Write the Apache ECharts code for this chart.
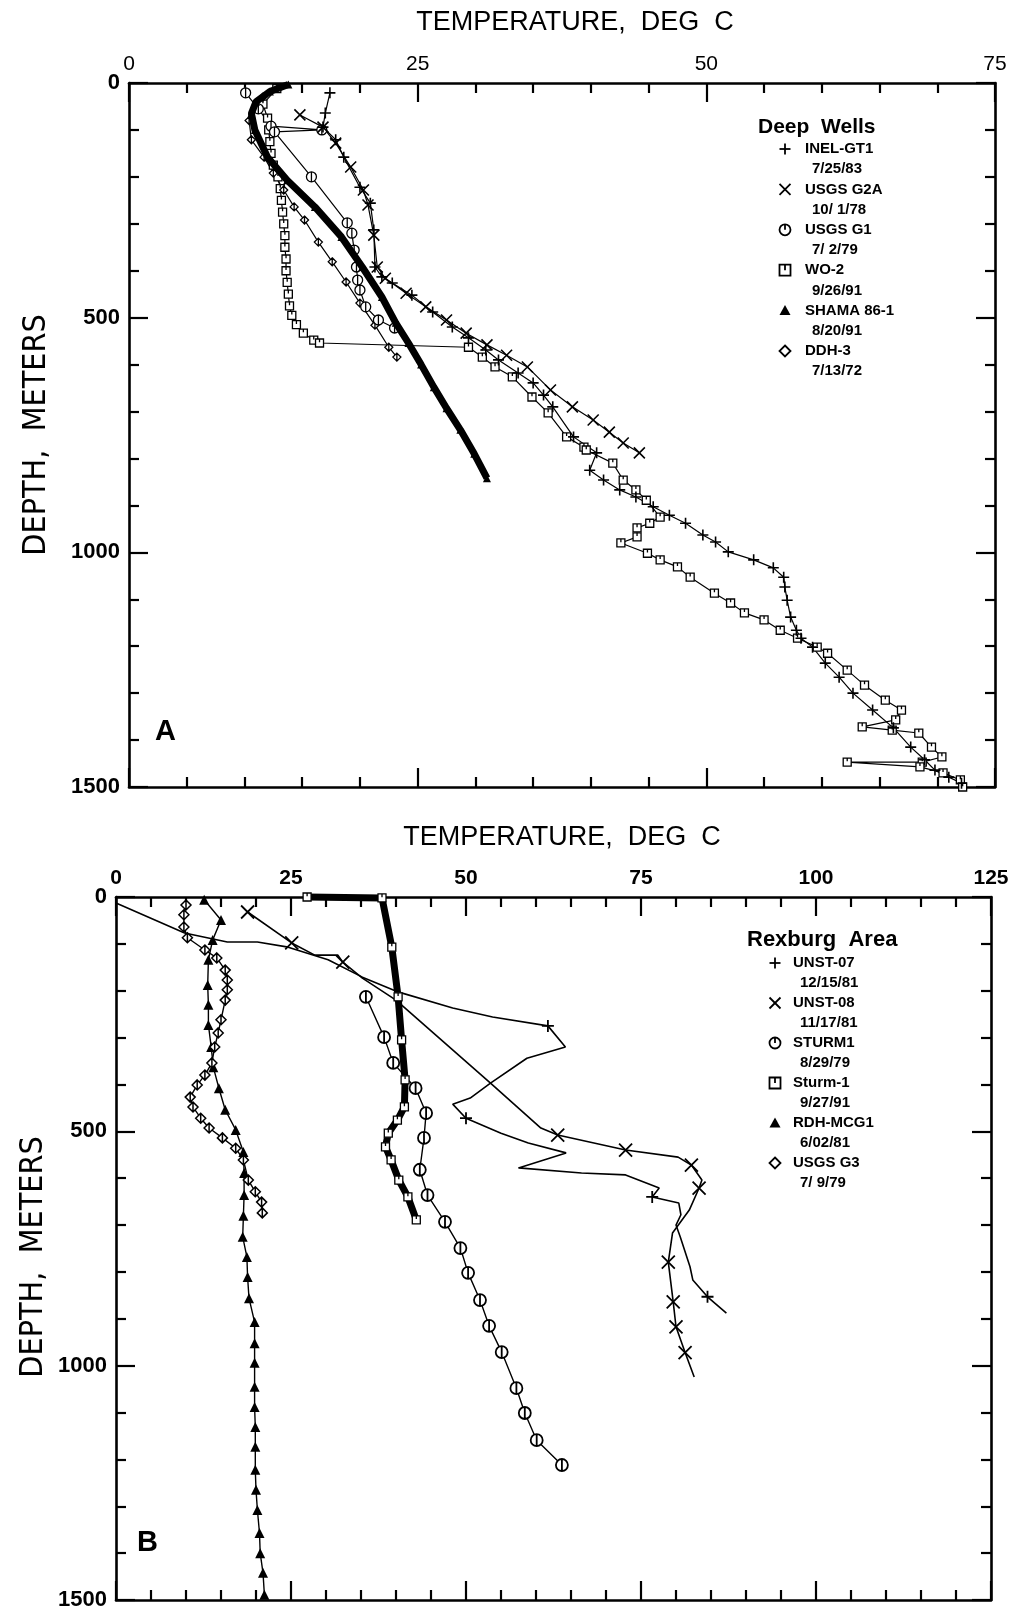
<!DOCTYPE html>
<html>
<head>
<meta charset="utf-8">
<script src="https://cdn.jsdelivr.net/npm/echarts@6/dist/echarts.min.js"></script>
<style>
  html, body { margin: 0; padding: 0; background: #fff; }
  #chart { width: 1033px; height: 1612px; }
</style>
</head>
<body>
<div id="chart"></div>
<script>
// Axis tick values
const tempTicksA = [0, 25, 50, 75];
const tempTicksB = [0, 25, 50, 75, 100, 125];
const depthTicks = [0, 500, 1000, 1500];

// ---- Panel A: Deep Wells  [temperature degC, depth m] ----
const inelGT1 = [
  [17.4,21],[17.0,64],[16.8,94],[17.9,121],[18.6,158],[20.0,222],[20.9,256],[21.2,313],
  [21.3,392],[21.9,413],[22.8,426],[24.5,452],[26.3,488],[28.0,520],[29.4,543],[30.9,569],
  [32.0,590],[33.7,618],[35.0,639],[35.9,665],[36.7,690],[38.5,754],[40.5,788],[39.9,825],
  [41.1,846],[42.5,867],[43.9,882],[45.4,903],[46.8,921],[48.2,938],[49.7,963],[50.8,978],
  [51.9,999],[54.1,1016],[55.8,1033],[56.7,1053],[56.8,1074],[57.0,1102],[57.3,1138],
  [57.8,1166],[58.2,1183],[59.2,1202],[60.3,1236],[61.5,1266],[62.7,1300],[64.4,1336],
  [66.2,1374],[67.7,1415],[68.9,1442],[69.8,1464],[71.0,1479],[72.1,1492]
];
const usgsG2A = [
  [14.8,68],[16.8,94],[17.9,128],[19.2,179],[20.3,228],[20.7,260],[21.2,324],[21.5,392],
  [22.2,416],[24.0,448],[25.7,477],[27.5,505],[29.2,533],[31.0,558],[32.7,580],[34.5,605],
  [36.5,654],[38.4,690],[40.2,718],[41.6,744],[42.8,767],[44.2,788]
];
const usgsG1 = [
  [10.1,21],[11.2,55],[12.3,92],[16.7,100],[12.6,104],[15.8,200],[18.9,298],[19.3,320],
  [19.5,356],[19.7,392],[19.8,420],[20.0,441],[20.5,477],[21.6,505],[23.0,522]
];
const wo2 = [
  [12.8,12],[11.6,45],[12.0,75],[12.1,100],[12.2,125],[12.3,150],[12.5,175],[12.9,200],
  [13.1,225],[13.2,250],[13.3,275],[13.4,300],[13.5,325],[13.5,350],[13.6,375],[13.6,400],
  [13.7,425],[13.8,450],[13.9,475],[14.1,495],[14.5,515],[15.1,533],[16.0,548],[16.5,554],
  [29.4,563],[30.6,584],[31.7,605],[33.2,626],[34.9,669],[36.3,703],[37.9,754],[39.4,776],
  [39.6,782],[41.9,810],[42.8,846],[43.9,867],[44.8,889],[46.0,925],[45.1,938],[44.0,948],
  [44.0,967],[42.6,980],[44.9,1002],[46.0,1016],[47.5,1031],[48.6,1053],[50.7,1087],
  [52.1,1108],[53.3,1129],[55.0,1144],[56.4,1166],[57.9,1183],[59.6,1202],[60.5,1215],
  [62.2,1251],[63.7,1283],[65.5,1315],[66.9,1336],[66.4,1357],[63.5,1372],[66.1,1379],
  [68.4,1385],[69.5,1415],[70.4,1436],[68.7,1447],[62.2,1447],[68.5,1457],[70.5,1470],
  [72.0,1485],[72.2,1500]
];
const shama861 = [
  [13.8,3],[12.2,18],[11.0,40],[10.6,65],[10.9,100],[12.0,158],[13.7,207],[16.1,264],
  [18.4,328],[20.2,392],[21.9,456],[23.1,511],[24.2,554],[25.3,600],[26.4,648],[27.5,693],
  [28.7,739],[29.9,790],[31.0,842]
];
const ddh3 = [
  [11.6,30],[10.4,80],[10.6,121],[11.7,158],[12.5,192],[13.4,228],[14.3,264],[15.2,292],
  [16.4,339],[17.6,381],[18.8,424],[20.0,469],[21.3,516],[22.5,563],[23.2,584]
];

// ---- Panel B: Rexburg Area  [temperature degC, depth m, marked 1/0] ----
const unst07 = [
  [0.0,13,0],[9.8,77,0],[15.9,96,0],[20.2,96,0],[24.6,107,0],[30.3,134,0],[35.2,171,0],
  [40.4,203,0],[48.1,237,0],[53.8,256,0],[61.7,275,1],[64.2,320,0],[58.7,344,0],[53.5,397,0],
  [50.6,429,0],[48.1,442,0],[50.0,472,1],[55.0,504,0],[58.9,525,0],[64.3,546,0],[57.5,578,0],
  [66.5,589,0],[72.8,593,0],[77.6,621,0],[76.6,640,1],[80.4,653,0],[80.7,678,0],[80.0,700,0],
  [80.6,725,0],[82.0,789,0],[82.4,817,0],[84.5,853,1],[87.2,888,0]
];
const unst08 = [
  [18.8,32,1],[25.1,98,1],[28.4,124,0],[31.7,124,0],[32.4,139,1],[35.2,173,0],[40.0,220,0],
  [53.5,397,0],[60.7,493,0],[63.1,508,1],[72.8,540,1],[80.3,555,0],[82.2,572,1],[83.7,604,0],
  [83.3,621,1],[81.9,668,0],[79.5,717,0],[78.9,779,1],[79.6,864,1],[80.0,917,1],[81.3,972,1],
  [82.6,1024,0]
];
const sturm1Old = [
  [35.7,213],[38.3,299],[39.6,354],[42.8,408],[44.3,461],[44.0,514],[43.4,582],[44.5,636],
  [47.0,693],[49.2,749],[50.3,802],[52.0,860],[53.3,915],[55.1,971],[57.2,1048],[58.4,1101],
  [60.1,1159],[63.7,1212]
];
const sturm1New = [
  [27.3,0],[38.0,2],[39.4,107],[40.3,213],[40.8,305],[41.3,390],[41.2,448],[40.2,476],
  [38.9,504],[38.5,533],[39.3,561],[40.4,604],[41.7,640],[42.9,689]
];
const rdhMcg1 = [
  [12.6,6],[15.0,49],[13.8,92],[13.2,134],[13.1,188],[13.2,230],[13.2,273],[13.6,320],
  [13.9,363],[14.7,408],[15.6,454],[17.1,497],[18.2,544],[18.3,589],[18.3,636],[18.2,680],
  [18.1,725],[18.7,768],[18.8,811],[19.0,856],[19.8,907],[19.8,952],[19.8,994],[19.8,1045],
  [19.8,1088],[19.9,1131],[19.9,1173],[19.9,1222],[20.0,1265],[20.2,1308],[20.5,1357],
  [20.6,1400],[21.0,1442],[21.2,1489]
];
const usgsG3 = [
  [10.0,17],[9.7,38],[9.7,64],[10.2,87],[12.7,113],[14.4,130],[15.6,156],[15.9,177],
  [15.9,198],[15.6,220],[15.0,262],[14.6,290],[14.1,320],[13.7,354],[12.7,380],[11.6,401],
  [10.6,427],[11.0,448],[12.1,472],[13.3,493],[15.2,514],[17.1,536],[18.2,561],[18.9,604],
  [19.9,629],[20.8,651],[20.9,674]
];

// Legend entries: [name, date, symbol kind]
const legendA = [
  ['INEL-GT1', '7/25/83', 'plus'],
  ['USGS G2A', '10/ 1/78', 'cross'],
  ['USGS G1', '7/ 2/79', 'circle'],
  ['WO-2', '9/26/91', 'square'],
  ['SHAMA 86-1', '8/20/91', 'triangle'],
  ['DDH-3', '7/13/72', 'diamond']
];
const legendB = [
  ['UNST-07', '12/15/81', 'plus'],
  ['UNST-08', '11/17/81', 'cross'],
  ['STURM1', '8/29/79', 'circle'],
  ['Sturm-1', '9/27/91', 'square'],
  ['RDH-MCG1', '6/02/81', 'triangle'],
  ['USGS G3', '7/ 9/79', 'diamond']
];

// ---- Symbol shapes ----
const SYM = {
  plus: 'path://M5,0L5,10M0,5L10,5',
  cross: 'path://M0,0L10,10M10,0L0,10',
  circle: 'path://M5,0A5,5,0,1,1,5,10A5,5,0,1,1,5,0ZM5,0L5,10',
  square: 'path://M0,0L10,0L10,10L0,10ZM5,0L5,4',
  triangle: 'triangle',
  diamond: 'path://M5,0L10,5L5,10L0,5ZM5,0L5,10'
};

function series(panel, name, pts, kind, size, opts) {
  opts = opts || {};
  const filled = kind === 'triangle';
  return {
    type: 'line',
    name: name,
    xAxisIndex: panel * 2,
    yAxisIndex: panel * 2,
    data: pts.map(p => (p.length > 2 && p[2] === 0)
      ? { value: [p[0], p[1]], symbol: 'none' }
      : [p[0], p[1]]),
    symbol: SYM[kind],
    symbolSize: size,
    symbolKeepAspect: true,
    itemStyle: filled
      ? { color: '#000' }
      : { color: '#fff', borderColor: '#000', borderWidth: opts.bw || 1.3 },
    lineStyle: { color: '#000', width: opts.lw || 1.2 },
    clip: false,
    silent: true,
    animation: false,
    z: opts.z || 2
  };
}

const plainNumber = v => String(v);

function xAxis(grid, pos, ticks, showLabels, bold) {
  return {
    type: 'value', gridIndex: grid, position: pos,
    min: ticks[0], max: ticks[ticks.length - 1], interval: ticks[1] - ticks[0],
    axisLine: { show: true, onZero: false, lineStyle: { color: '#000', width: 2.6 } },
    axisTick: { show: true, inside: true, length: 19, lineStyle: { color: '#000', width: 2.2 } },
    minorTick: { show: true, splitNumber: 5, length: 10, lineStyle: { color: '#000', width: 2.2 } },
    splitLine: { show: false },
    minorSplitLine: { show: false },
    axisLabel: {
      show: showLabels, margin: 8, color: '#000', fontSize: 21, formatter: plainNumber,
      fontWeight: bold ? 'bold' : 'normal', fontFamily: 'Liberation Sans'
    }
  };
}
function yAxis(grid, pos, showLabels) {
  return {
    type: 'value', gridIndex: grid, position: pos, inverse: true,
    min: depthTicks[0], max: depthTicks[depthTicks.length - 1],
    interval: depthTicks[1] - depthTicks[0],
    axisLine: { show: true, onZero: false, lineStyle: { color: '#000', width: 2.6 } },
    axisTick: { show: true, inside: true, length: 19, lineStyle: { color: '#000', width: 2.2 } },
    minorTick: { show: true, splitNumber: 5, length: 10, lineStyle: { color: '#000', width: 2.2 } },
    splitLine: { show: false },
    minorSplitLine: { show: false },
    axisLabel: {
      show: showLabels, margin: 9, color: '#000', fontSize: 22, formatter: plainNumber,
      fontWeight: 'bold', fontFamily: 'Liberation Sans'
    }
  };
}

// ---- Legend drawing ----
function legendSymbol(kind, cx, cy, s) {
  const h = s / 2;
  const st = { stroke: '#000', lineWidth: 1.8, fill: 'none' };
  const ln = (x1, y1, x2, y2) => ({ type: 'line', shape: { x1, y1, x2, y2 }, style: st, silent: true });
  switch (kind) {
    case 'plus': return [ln(cx - h, cy, cx + h, cy), ln(cx, cy - h, cx, cy + h)];
    case 'cross': return [ln(cx - h, cy - h, cx + h, cy + h), ln(cx + h, cy - h, cx - h, cy + h)];
    case 'circle': return [
      { type: 'circle', shape: { cx, cy, r: h }, style: { stroke: '#000', lineWidth: 1.8, fill: '#fff' }, silent: true },
      ln(cx, cy - h, cx, cy)];
    case 'square': return [
      { type: 'rect', shape: { x: cx - h, y: cy - h, width: s, height: s }, style: { stroke: '#000', lineWidth: 1.8, fill: '#fff' }, silent: true },
      ln(cx, cy - h, cx, cy)];
    case 'triangle': return [
      { type: 'polygon', shape: { points: [[cx, cy - h], [cx + h, cy + h * 0.8], [cx - h, cy + h * 0.8]] }, style: { fill: '#000' }, silent: true }];
    case 'diamond': return [
      { type: 'polygon', shape: { points: [[cx, cy - h], [cx + h, cy], [cx, cy + h], [cx - h, cy]] }, style: { stroke: '#000', lineWidth: 1.8, fill: '#fff' }, silent: true }];
  }
  return [];
}
function text(x, y, str, font, align, rot) {
  return {
    type: 'text', x, y, rotation: rot || 0, silent: true,
    style: {
      text: str, font, fill: '#000',
      align: align || 'left', verticalAlign: 'middle',
      textAlign: align || 'left', textVerticalAlign: 'middle'
    }
  };
}
function legendBlock(title, entries, tx, ty, sx, nx, dx, y0, step, titleFont) {
  const els = [text(tx, ty, title, titleFont)];
  entries.forEach((e, i) => {
    const yn = y0 + i * step * 2;
    els.push(...legendSymbol(e[2], sx, yn, 11));
    els.push(text(nx, yn, e[0], 'bold 15px "Liberation Sans"'));
    els.push(text(dx, yn + step, e[1], 'bold 15px "Liberation Sans"'));
  });
  return els;
}

const titleFont = '27px "Liberation Sans"';
const yTitleFont = '32px "Liberation Sans Narrow", "DejaVu Sans Condensed", sans-serif';

const graphics = [
  text(575, 23, 'TEMPERATURE,  DEG  C', titleFont, 'center'),
  text(562, 838, 'TEMPERATURE,  DEG  C', titleFont, 'center'),
  text(37, 435, 'DEPTH,  METERS', yTitleFont, 'center', Math.PI / 2),
  text(34, 1257, 'DEPTH,  METERS', yTitleFont, 'center', Math.PI / 2),
  text(155, 732, 'A', 'bold 29px "Liberation Sans"'),
  text(137, 1543, 'B', 'bold 29px "Liberation Sans"'),
  ...legendBlock('Deep  Wells', legendA, 758, 127, 785, 805, 812, 149, 20.2, 'bold 21px "Liberation Sans"'),
  ...legendBlock('Rexburg  Area', legendB, 747, 940, 775, 793, 800, 963, 20, 'bold 22px "Liberation Sans"')
];

const chart = echarts.init(document.getElementById('chart'), null, { renderer: 'canvas' });
chart.setOption({
  backgroundColor: '#fff',
  animation: false,
  grid: [
    { left: 129, top: 83, width: 866, height: 704 },
    { left: 116, top: 897, width: 875, height: 703 }
  ],
  xAxis: [
    xAxis(0, 'top', tempTicksA, true, false),
    xAxis(0, 'bottom', tempTicksA, false, false),
    xAxis(1, 'top', tempTicksB, true, true),
    xAxis(1, 'bottom', tempTicksB, false, true)
  ],
  yAxis: [
    yAxis(0, 'left', true),
    yAxis(0, 'right', false),
    yAxis(1, 'left', true),
    yAxis(1, 'right', false)
  ],
  series: [
    series(0, 'WO-2', wo2, 'square', 8),
    series(0, 'DDH-3', ddh3, 'diamond', 8),
    series(0, 'USGS G1', usgsG1, 'circle', 10),
    series(0, 'SHAMA 86-1', shama861, 'triangle', 8, { lw: 7, z: 3 }),
    series(0, 'INEL-GT1', inelGT1, 'plus', 11, { bw: 1.6 }),
    series(0, 'USGS G2A', usgsG2A, 'cross', 11, { bw: 1.6 }),

    series(1, 'UNST-07', unst07, 'plus', 12, { bw: 1.8, lw: 1.6 }),
    series(1, 'UNST-08', unst08, 'cross', 13, { bw: 1.8, lw: 1.6 }),
    series(1, 'STURM1', sturm1Old, 'circle', 12, { bw: 1.8, lw: 1.4 }),
    series(1, 'Sturm-1', sturm1New, 'square', 8, { lw: 7, z: 3 }),
    series(1, 'RDH-MCG1', rdhMcg1, 'triangle', 10, { lw: 1.4 }),
    series(1, 'USGS G3', usgsG3, 'diamond', 10, { bw: 1.5, lw: 1.4 })
  ],
  graphic: graphics
});
</script>
</body>
</html>
